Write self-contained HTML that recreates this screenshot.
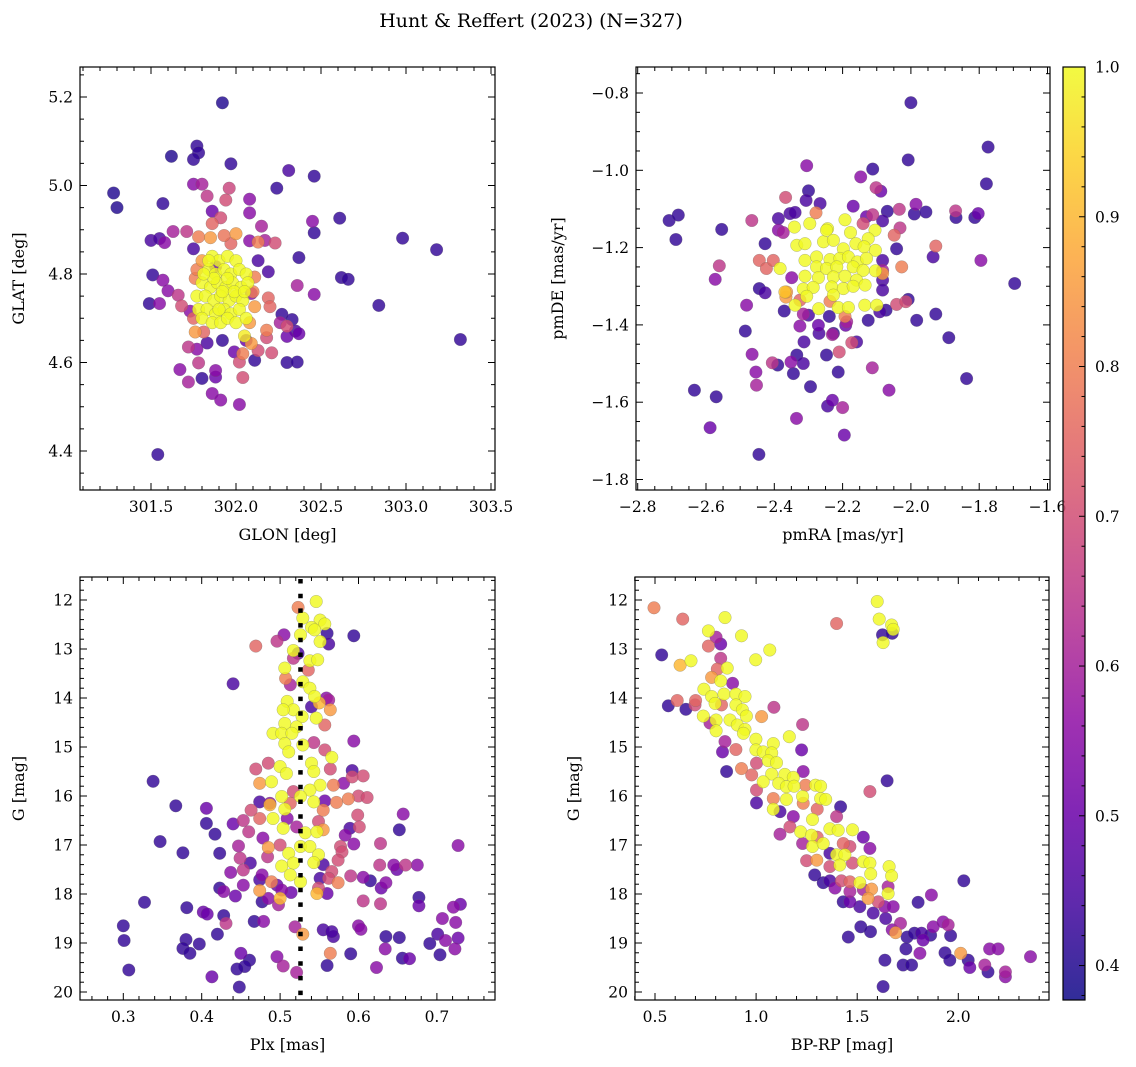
<!DOCTYPE html>
<html><head><meta charset="utf-8">
<style>
html,body{margin:0;padding:0;background:#fff;}
svg{display:block;font-family:"DejaVu Serif","Liberation Serif",serif;}
</style></head>
<body>
<svg id="fig" width="1136" height="1067" viewBox="0 0 1136 1067" xmlns="http://www.w3.org/2000/svg">
<rect width="1136" height="1067" fill="#fff"/>
<text x="531" y="27" font-size="19" text-anchor="middle">Hunt &amp; Reffert (2023) (N=327)</text>
</svg>
<script>
// ---- Data (x, y, membership probability) ----
const glonGlat = [
[301.92,5.187,.4],[301.28,4.983,.4],[301.30,4.95,.4],[301.62,5.066,.4],[301.77,5.089,.42],[301.78,5.074,.42],[301.75,5.059,.42],[301.97,5.049,.42],[302.31,5.034,.45],[302.46,5.021,.42],[302.24,4.994,.42],[301.75,5.003,.55],[301.80,5.003,.6],[301.83,4.976,.65],[301.96,4.994,.68],[301.94,4.967,.7],[302.08,4.969,.55],[302.08,4.938,.55],[301.57,4.959,.42],[301.86,4.942,.5],[301.91,4.927,.7],[301.86,4.914,.75],[302.15,4.908,.6],[302.61,4.926,.42],[302.45,4.919,.55],[302.46,4.893,.42],[302.98,4.881,.42],[303.18,4.855,.42],[302.37,4.837,.42],[302.62,4.792,.42],[302.66,4.788,.42],[302.36,4.774,.6],[302.46,4.754,.55],[302.84,4.729,.42],[303.32,4.652,.42],[301.54,4.392,.42],[301.50,4.876,.45],[301.55,4.880,.45],[301.58,4.871,.55],[301.63,4.896,.6],[301.71,4.896,.65],[301.78,4.884,.8],[301.85,4.882,.85],[301.93,4.887,.78],[302.00,4.891,.85],[301.97,4.869,.75],[302.08,4.875,.55],[302.13,4.872,.8],[302.17,4.876,.6],[302.23,4.870,.7],[301.75,4.857,.45],[302.13,4.830,.45],[301.51,4.798,.42],[301.57,4.786,.55],[301.60,4.762,.55],[301.66,4.752,.65],[302.19,4.805,.45],[301.49,4.733,.42],[301.55,4.733,.55],[301.68,4.728,.7],[301.73,4.716,.55],[302.11,4.793,.8],[302.09,4.756,.55],[302.11,4.726,.85],[302.19,4.746,.75],[302.20,4.726,.75],[302.27,4.709,.42],[302.33,4.697,.42],[302.26,4.690,.6],[302.30,4.682,.7],[302.35,4.671,.45],[302.37,4.665,.5],[302.30,4.659,.5],[302.18,4.673,.8],[302.18,4.656,.7],[301.76,4.669,.85],[301.81,4.669,.75],[301.83,4.644,.45],[301.92,4.650,.42],[302.06,4.650,.5],[302.09,4.643,.85],[301.72,4.635,.65],[301.77,4.630,.55],[301.99,4.624,.5],[302.02,4.601,.7],[302.04,4.620,.8],[302.11,4.605,.42],[302.13,4.627,.7],[302.21,4.622,.7],[302.30,4.600,.42],[302.36,4.601,.42],[301.78,4.599,.65],[301.67,4.584,.55],[301.88,4.582,.55],[301.72,4.556,.6],[301.80,4.564,.42],[301.88,4.567,.5],[302.04,4.566,.7],[301.86,4.530,.55],[301.91,4.515,.55],[302.02,4.505,.55],[301.88,4.817,.5],
[301.80,4.83,.85],[301.76,4.79,.8],[301.75,4.70,.75],[302.08,4.69,.85],[302.10,4.76,.8],[301.77,4.81,.8],
[301.86,4.84,1],[301.90,4.83,1],[301.95,4.84,1],[302.00,4.83,1],[301.84,4.81,1],[301.88,4.80,1],[301.93,4.81,1],[301.97,4.80,1],[302.02,4.81,1],[302.06,4.80,1],[301.80,4.78,1],[301.85,4.77,1],[301.89,4.78,1],[301.94,4.77,1],[301.98,4.78,1],[302.03,4.77,1],[302.07,4.78,1],[301.77,4.75,1],[301.82,4.75,1],[301.87,4.74,1],[301.91,4.75,1],[301.96,4.74,1],[302.00,4.75,1],[302.04,4.74,1],[301.78,4.72,1],[301.83,4.72,1],[301.88,4.71,1],[301.93,4.72,1],[301.97,4.71,1],[302.02,4.72,1],[301.80,4.70,1],[301.86,4.69,1],[301.91,4.69,1],[301.95,4.70,1],[302.00,4.69,1],[302.06,4.70,1],[301.84,4.83,1],[301.92,4.76,1],[301.99,4.76,1],[301.87,4.79,1],[302.05,4.76,1],[301.81,4.80,1],[301.95,4.79,1],[301.90,4.72,1],[302.05,4.66,.98]
];
const pmData = [
[-2.0,-0.825,.42],[-1.774,-0.94,.42],[-2.008,-0.973,.42],[-2.112,-0.997,.42],[-2.147,-1.017,.55],[-2.305,-0.988,.55],[-1.779,-1.035,.42],[-2.102,-1.045,.65],[-2.088,-1.054,.5],[-2.708,-1.130,.42],[-2.681,-1.116,.42],[-2.688,-1.179,.42],[-2.554,-1.153,.42],[-2.466,-1.13,.65],[-2.367,-1.07,.7],[-2.30,-1.053,.42],[-2.307,-1.078,.45],[-2.266,-1.086,.45],[-2.388,-1.125,.45],[-2.354,-1.112,.45],[-2.339,-1.109,.45],[-2.388,-1.155,.55],[-2.374,-1.161,.6],[-2.427,-1.19,.42],[-2.278,-1.11,.8],[-2.169,-1.093,.5],[-2.13,-1.12,.5],[-2.112,-1.115,.65],[-2.083,-1.131,.45],[-2.069,-1.106,.42],[-2.034,-1.101,.65],[-1.985,-1.088,.55],[-1.99,-1.113,.42],[-1.956,-1.108,.42],[-2.032,-1.149,.65],[-2.049,-1.168,.75],[-2.042,-1.203,.42],[-1.927,-1.196,.75],[-1.935,-1.224,.45],[-1.869,-1.105,.65],[-1.868,-1.122,.42],[-1.813,-1.122,.42],[-1.803,-1.112,.5],[-1.795,-1.233,.55],[-1.696,-1.293,.42],[-2.027,-1.25,.8],[-2.083,-1.233,.45],[-2.083,-1.259,.6],[-2.083,-1.284,.45],[-2.083,-1.31,.45],[-2.073,-1.362,.42],[-2.091,-1.366,.45],[-2.042,-1.347,.7],[-2.008,-1.334,.42],[-2.015,-1.34,.7],[-1.983,-1.388,.42],[-1.927,-1.372,.42],[-1.889,-1.433,.42],[-1.837,-1.539,.42],[-2.064,-1.569,.55],[-2.113,-1.511,.6],[-2.159,-1.444,.45],[-2.173,-1.446,.7],[-2.125,-1.388,.42],[-2.188,-1.392,.6],[-2.191,-1.401,.5],[-2.21,-1.47,.7],[-2.213,-1.522,.42],[-2.247,-1.478,.42],[-2.227,-1.422,.42],[-2.23,-1.425,.6],[-2.269,-1.422,.45],[-2.271,-1.401,.5],[-2.239,-1.378,.42],[-2.30,-1.375,.45],[-2.315,-1.372,.6],[-2.325,-1.403,.55],[-2.313,-1.444,.45],[-2.315,-1.5,.45],[-2.334,-1.478,.42],[-2.351,-1.496,.55],[-2.344,-1.526,.42],[-2.39,-1.504,.42],[-2.406,-1.498,.65],[-2.294,-1.56,.42],[-2.335,-1.642,.55],[-2.244,-1.61,.45],[-2.23,-1.595,.5],[-2.2,-1.614,.6],[-2.195,-1.685,.5],[-2.445,-1.735,.42],[-2.452,-1.556,.6],[-2.454,-1.522,.55],[-2.465,-1.476,.55],[-2.485,-1.416,.42],[-2.481,-1.349,.55],[-2.588,-1.666,.5],[-2.57,-1.586,.42],[-2.634,-1.569,.42],[-2.573,-1.282,.55],[-2.561,-1.247,.65],[-2.444,-1.306,.42],[-2.427,-1.317,.45],[-2.371,-1.364,.42],[-2.444,-1.233,.75],[-2.423,-1.254,.75],[-2.403,-1.233,.75],[-2.349,-1.278,.55],[-2.366,-1.328,.85],[-2.364,-1.315,.85],
[-2.237,-1.339,.8],[-2.193,-1.378,.8],[-2.083,-1.267,.85],[-2.325,-1.336,.75],[-2.14,-1.138,.7],
[-2.341,-1.147,1],[-2.296,-1.138,1],[-2.244,-1.151,1],[-2.193,-1.128,1],[-2.177,-1.161,1],[-2.105,-1.155,1],[-2.125,-1.177,1],[-2.334,-1.194,1],[-2.31,-1.19,1],[-2.256,-1.185,1],[-2.227,-1.181,1],[-2.198,-1.203,1],[-2.161,-1.19,1],[-2.137,-1.198,1],[-2.104,-1.207,1],[-2.31,-1.233,1],[-2.276,-1.224,1],[-2.237,-1.231,1],[-2.208,-1.228,1],[-2.183,-1.224,1],[-2.157,-1.237,1],[-2.13,-1.228,1],[-2.276,-1.25,1],[-2.247,-1.254,1],[-2.217,-1.25,1],[-2.169,-1.25,1],[-2.14,-1.259,1],[-2.104,-1.26,1],[-2.31,-1.274,1],[-2.271,-1.278,1],[-2.227,-1.276,1],[-2.193,-1.274,1],[-2.159,-1.284,1],[-2.315,-1.307,1],[-2.286,-1.303,1],[-2.232,-1.302,1],[-2.198,-1.306,1],[-2.169,-1.3,1],[-2.134,-1.297,1],[-2.339,-1.349,1],[-2.27,-1.358,1],[-2.213,-1.355,1],[-2.183,-1.355,1],[-2.135,-1.349,1],[-2.1,-1.349,1],[-2.383,-1.254,1],[-2.227,-1.323,1],[-2.305,-1.326,1],[-2.369,-1.315,.92],[-2.247,-1.155,1]
];
const plxG = [
[0.546,12.03,1],[0.523,12.15,.8],[0.529,12.37,1],[0.551,12.41,1],[0.557,12.49,1],[0.54,12.56,1],[0.544,12.61,1],[0.56,12.68,.42],[0.562,12.9,.45],[0.551,12.85,1],[0.594,12.73,.42],[0.505,12.71,.55],[0.496,12.84,.65],[0.469,12.94,.75],[0.526,12.71,1],[0.523,13.09,.45],[0.517,13.03,1],[0.517,13.19,.65],[0.538,13.24,1],[0.548,13.22,1],[0.536,13.43,.75],[0.506,13.39,1],[0.507,13.6,.8],[0.513,13.73,.6],[0.44,13.71,.45],[0.529,13.67,1],[0.538,13.8,1],[0.544,13.97,1],[0.559,14.0,.55],[0.562,14.04,.6],[0.55,14.1,.9],[0.564,14.24,.85],[0.54,14.18,.45],[0.509,14.07,1],[0.517,14.24,1],[0.504,14.24,1],[0.528,14.38,1],[0.546,14.41,1],[0.557,14.55,.75],[0.506,14.52,1],[0.521,14.59,1],[0.491,14.72,1],[0.502,14.72,1],[0.515,14.72,1],[0.543,14.91,.65],[0.506,14.93,1],[0.529,14.96,1],[0.594,14.88,.55],[0.511,15.1,1],[0.557,15.06,.7],[0.566,15.21,1],[0.5,15.4,1],[0.485,15.33,.7],[0.469,15.45,.7],[0.508,15.54,1],[0.54,15.33,1],[0.543,15.5,1],[0.564,15.45,.7],[0.592,15.48,.45],[0.592,15.61,.7],[0.606,15.59,.7],[0.581,15.74,.55],[0.568,15.78,.8],[0.551,15.78,1],[0.538,15.88,1],[0.489,15.71,1],[0.474,15.74,.85],[0.502,16.01,1],[0.517,15.91,.7],[0.526,16.01,1],[0.543,16.12,1],[0.557,16.1,.5],[0.572,16.13,.8],[0.587,16.06,.8],[0.6,16.0,.7],[0.611,16.03,.7],[0.338,15.7,.42],[0.367,16.2,.42],[0.406,16.25,.5],[0.474,16.12,.45],[0.487,16.15,.55],[0.463,16.29,.7],[0.474,16.46,.75],[0.487,16.18,.9],[0.513,16.15,.75],[0.506,16.27,1],[0.509,16.46,.55],[0.555,16.29,.8],[0.491,16.46,1],[0.504,16.66,1],[0.521,16.63,.6],[0.532,16.75,1],[0.547,16.73,1],[0.555,16.69,.85],[0.549,16.52,.7],[0.599,16.39,.7],[0.601,16.63,.7],[0.589,16.66,.45],[0.583,16.8,.55],[0.594,16.98,.55],[0.628,16.97,.65],[0.652,16.69,.42],[0.657,16.37,.55],[0.727,17.01,.55],[0.406,16.56,.42],[0.417,16.78,.42],[0.347,16.93,.42],[0.376,17.16,.42],[0.423,17.17,.42],[0.44,16.57,.5],[0.453,16.5,.65],[0.46,16.73,.65],[0.478,16.86,.55],[0.447,17.02,.6],[0.485,17.05,.85],[0.484,17.24,.65],[0.5,17.0,.7],[0.511,17.17,1],[0.526,17.03,1],[0.538,17.03,1],[0.549,17.2,1],[0.577,17.03,.7],[0.579,17.14,.7],[0.574,17.31,.7],[0.502,17.43,1],[0.517,17.37,1],[0.543,17.36,1],[0.513,17.61,1],[0.526,17.75,1],[0.449,17.27,.65],[0.462,17.37,.45],[0.453,17.51,.65],[0.437,17.56,.55],[0.555,17.4,.45],[0.566,17.54,.7],[0.562,17.68,.7],[0.551,17.68,.45],[0.574,17.77,.8],[0.59,17.63,.65],[0.606,17.66,.55],[0.615,17.73,.42],[0.627,17.41,.65],[0.645,17.41,.55],[0.649,17.5,.5],[0.66,17.41,.65],[0.675,17.41,.55],[0.629,17.88,.5],[0.635,17.77,.55],[0.477,17.61,.55],[0.474,17.71,.45],[0.489,17.75,.8],[0.496,17.82,.5],[0.502,17.92,.55],[0.514,17.97,.5],[0.474,17.93,.85],[0.485,18.09,.55],[0.5,18.09,.9],[0.498,18.22,.6],[0.477,18.16,.42],[0.549,17.88,.7],[0.547,17.99,.9],[0.56,17.99,.5],[0.423,17.88,.42],[0.428,17.95,.55],[0.443,18.04,.5],[0.453,17.82,.55],[0.606,18.14,.65],[0.628,18.2,.65],[0.327,18.17,.42],[0.381,18.28,.42],[0.402,18.37,.5],[0.407,18.41,.5],[0.428,18.44,.42],[0.431,18.6,.65],[0.467,18.56,.42],[0.479,18.56,.55],[0.519,18.67,.6],[0.529,18.82,.85],[0.555,18.73,.45],[0.568,18.87,.45],[0.566,18.77,.45],[0.6,18.65,.55],[0.603,18.72,.55],[0.677,18.07,.42],[0.677,18.24,.5],[0.721,18.27,.55],[0.73,18.21,.5],[0.707,18.5,.55],[0.724,18.58,.55],[0.3,18.65,.42],[0.301,18.95,.42],[0.307,19.55,.42],[0.38,18.93,.42],[0.376,19.11,.42],[0.385,19.21,.42],[0.397,19.02,.42],[0.42,18.82,.42],[0.413,19.69,.5],[0.45,19.21,.5],[0.461,19.35,.42],[0.455,19.48,.42],[0.445,19.53,.42],[0.448,19.9,.42],[0.496,19.28,.55],[0.504,19.47,.6],[0.521,19.6,.6],[0.564,19.21,.8],[0.56,19.46,.42],[0.59,19.22,.42],[0.623,19.5,.55],[0.635,18.87,.42],[0.634,19.12,.55],[0.652,18.89,.42],[0.656,19.31,.42],[0.665,19.32,.5],[0.691,19.01,.42],[0.701,18.82,.45],[0.711,18.95,.55],[0.704,19.24,.42],[0.723,19.12,.55],[0.727,18.9,.5]
];
const cmdData = [
[0.495,12.16,.8],[0.637,12.39,.75],[0.846,12.36,1],[1.398,12.48,.75],[1.599,12.03,1],[1.609,12.39,1],[1.67,12.51,1],[1.678,12.6,1],[1.625,12.71,.42],[1.673,12.68,.42],[1.628,12.87,1],[0.764,12.63,1],[0.802,12.76,.6],[0.825,12.9,.5],[0.764,12.94,.75],[0.928,12.73,1],[0.533,13.12,.42],[0.624,13.33,.9],[0.678,13.24,1],[1.068,13.02,1],[0.998,13.22,1],[0.825,13.19,.65],[0.808,13.41,.75],[0.857,13.39,1],[0.78,13.58,.85],[0.825,13.65,1],[0.884,13.7,.55],[0.742,13.82,1],[0.61,14.05,.75],[0.566,14.16,.42],[0.653,14.23,.42],[0.701,14.05,.75],[0.698,14.14,.7],[0.78,13.97,1],[0.797,14.11,1],[0.841,13.92,1],[0.9,13.92,1],[0.945,13.97,1],[0.829,14.14,.75],[0.9,14.14,1],[0.932,14.24,1],[0.952,14.37,1],[0.739,14.37,1],[0.802,14.45,1],[0.871,14.45,1],[0.907,14.55,1],[0.945,14.64,1],[0.937,14.72,1],[1.027,14.38,.85],[1.088,14.19,.65],[1.23,14.54,.65],[0.802,14.67,1],[0.772,14.51,.6],[0.846,14.89,.6],[0.834,15.1,.5],[0.9,15.05,.75],[0.999,14.84,1],[1.164,14.79,1],[1.225,15.06,.5],[0.999,15.06,1],[1.035,15.1,1],[1.085,14.93,1],[1.077,15.12,1],[1.06,15.28,1],[1.101,15.32,1],[1.002,15.33,.7],[0.928,15.44,.8],[0.854,15.5,.42],[0.978,15.57,.75],[1.077,15.55,1],[1.142,15.56,1],[1.184,15.62,1],[1.233,15.5,.55],[1.035,15.71,1],[1.112,15.74,1],[1.15,15.81,1],[1.188,15.8,1],[1.245,15.78,.8],[1.294,15.78,1],[1.319,15.8,1],[1.002,15.88,.7],[1.085,16.05,.8],[1.15,16.07,1],[1.23,16.01,1],[1.233,16.15,.8],[1.319,16.05,1],[1.344,16.07,1],[1.302,16.27,.75],[1.002,16.14,.45],[1.085,16.27,1],[1.118,16.32,.45],[1.418,16.22,.42],[1.398,16.42,.65],[1.563,15.91,.7],[1.648,15.69,.42],[1.279,16.48,1],[1.184,16.42,.55],[1.167,16.63,.7],[1.22,16.73,1],[1.274,16.8,1],[1.302,16.84,.75],[1.365,16.67,1],[1.406,16.7,1],[1.477,16.69,1],[1.118,16.78,.6],[1.23,16.97,.6],[1.279,17.03,1],[1.332,16.97,1],[1.365,17.17,.45],[1.398,17.2,1],[1.431,16.97,.75],[1.464,17.03,.7],[1.439,17.2,1],[1.53,16.84,.5],[1.563,17.07,.55],[1.25,17.32,.7],[1.3,17.31,.85],[1.414,17.41,1],[1.365,17.44,.7],[1.477,17.37,.7],[1.53,17.34,1],[1.563,17.37,1],[1.567,17.59,1],[1.658,17.44,1],[1.67,17.63,1],[1.29,17.61,.42],[1.332,17.77,.42],[1.365,17.73,.45],[1.422,17.73,.7],[1.464,17.75,.75],[1.513,17.77,1],[1.39,17.88,.55],[1.464,17.95,.6],[1.53,17.91,.6],[1.571,17.9,.85],[1.653,17.85,.6],[1.653,17.99,1],[2.027,17.73,.42],[1.867,18.02,.55],[1.801,18.17,.42],[1.431,18.16,.42],[1.464,18.16,.5],[1.513,18.26,.45],[1.554,18.09,.85],[1.604,18.16,.7],[1.636,18.26,.55],[1.678,18.26,.55],[1.579,18.39,.45],[1.641,18.5,.45],[1.518,18.67,.42],[1.566,18.77,.42],[1.456,18.88,.42],[1.69,18.79,.85],[1.714,18.6,.6],[1.673,18.73,.55],[1.747,18.88,.42],[1.783,18.8,.42],[1.826,18.94,.5],[1.818,18.8,.45],[1.863,18.84,.42],[1.876,18.67,.55],[1.741,19.12,.42],[1.81,19.21,.55],[1.925,18.57,.55],[1.95,18.63,.6],[1.962,18.85,.42],[1.934,19.2,.42],[1.958,19.35,.42],[2.012,19.21,.85],[2.049,19.35,.42],[2.057,19.5,.5],[2.155,19.12,.55],[2.197,19.12,.55],[2.131,19.45,.6],[2.147,19.59,.42],[2.233,19.59,.6],[2.233,19.69,.55],[2.357,19.28,.55],[1.637,19.35,.42],[1.727,19.45,.42],[1.769,19.45,.42],[1.628,19.89,.42]
];
const plxMedian = 0.526;
const cbTicks = [0.4,0.5,0.6,0.7,0.8,0.9,1.0];
const vmin = 0.377, vmax = 1.0;

const NS = "http://www.w3.org/2000/svg";
const svg = document.getElementById('fig');
function mk(tag, attrs, parent){const e=document.createElementNS(NS,tag);for(const k in attrs)e.setAttribute(k,attrs[k]);(parent||svg).appendChild(e);return e;}
const plasma=[[13,8,135],[65,4,157],[106,0,168],[143,13,164],[177,42,144],[204,71,120],[225,100,98],[242,132,75],[252,166,54],[252,206,37],[240,249,33]];
function cmap(t){t=Math.max(0,Math.min(1,t));const f=t*10,i=Math.min(9,Math.floor(f)),u=f-i;const a=plasma[i],b=plasma[i+1];return `rgb(${Math.round(a[0]+(b[0]-a[0])*u)},${Math.round(a[1]+(b[1]-a[1])*u)},${Math.round(a[2]+(b[2]-a[2])*u)})`;}
function fmt(v,d){return v.toFixed(d).replace('-','\u2212');}

function panel(o){
  const g=mk('g',{});
  
  
  const X=v=>o.px0+(v-o.x0)*o.sx, Y=v=>o.py0+(v-o.y0)*o.sy;
  const clipId=o.name+'-clip';
  const cp=mk('clipPath',{id:clipId},g);mk('rect',{x:o.L,y:o.T,width:o.R-o.L,height:o.B-o.T},cp);
  const pts=mk('g',{'clip-path':`url(#${clipId})`},g);
  
  
  const sorted=o.data.slice().sort((a,b)=>a[2]-b[2]);
  for(const d of sorted){
    const c=mk('circle',{cx:X(d[0]).toFixed(1),cy:Y(d[1]).toFixed(1),r:6.3,fill:cmap((d[2]-vmin)/(vmax-vmin)),'fill-opacity':0.82,stroke:'#666','stroke-width':0.4,'stroke-opacity':0.6},pts);
    
    
  }
  if(o.vline!==undefined){
    const l=mk('line',{x1:X(o.vline),x2:X(o.vline),y1:o.T+2,y2:o.B,stroke:'#000','stroke-width':4.5,'stroke-dasharray':'4.5 10.2'},g);
    
    
  }
  const ax=mk('g',{stroke:'#000','stroke-width':1},g);
  for(let v=o.xmin0;v<=o.xmax0+1e-9;v+=o.xminor){const x=X(v);if(x<o.L-0.5||x>o.R+0.5)continue;const maj=Math.abs(v/o.xmajor-Math.round(v/o.xmajor))<1e-6;const len=maj?7:4;
    mk('line',{x1:x,x2:x,y1:o.B,y2:o.B-len},ax);mk('line',{x1:x,x2:x,y1:o.T,y2:o.T+len},ax);
    if(maj){const t=mk('text',{x:x,y:o.B+22,'font-size':15.5,'text-anchor':'middle',stroke:'none',fill:'#000'},g);t.textContent=fmt(v,o.xd);}}
  for(let v=o.ymin0;v<=o.ymax0+1e-9;v+=o.yminor){const y=Y(v);if(y<o.T-0.5||y>o.B+0.5)continue;const maj=Math.abs(v/o.ymajor-Math.round(v/o.ymajor))<1e-6;const len=maj?7:4;
    mk('line',{x1:o.L,x2:o.L+len,y1:y,y2:y},ax);mk('line',{x1:o.R,x2:o.R-len,y1:y,y2:y},ax);
    if(maj){const t=mk('text',{x:o.L-7,y:y+5.5,'font-size':15.5,'text-anchor':'end',stroke:'none',fill:'#000'},g);t.textContent=fmt(v,o.yd);}}
  mk('rect',{x:o.L,y:o.T,width:o.R-o.L,height:o.B-o.T,fill:'none',stroke:'#000','stroke-width':1.2},g);
  const xl=mk('text',{x:(o.L+o.R)/2,y:o.B+50,'font-size':16,'text-anchor':'middle'},g);xl.textContent=o.xlabel;
  
  const yx=o.ylx,yy=(o.T+o.B)/2;
  const yl=mk('text',{x:yx,y:yy,'font-size':16,'text-anchor':'middle',transform:`rotate(-90 ${yx} ${yy})`},g);yl.textContent=o.ylabel;
  
}

panel({name:'glon-glat-panel',data:glonGlat,L:80,R:495,T:67,B:490,x0:301.5,px0:151,sx:170,y0:5.2,py0:97,sy:-442.5,
  xmin0:301.0,xmax0:303.6,xminor:0.1,xmajor:0.5,xd:1,ymin0:4.3,ymax0:5.3,yminor:0.05,ymajor:0.2,yd:1,xlabel:'GLON [deg]',ylabel:'GLAT [deg]',ylx:24});
panel({name:'proper-motion-panel',data:pmData,L:636,R:1050,T:67,B:490,x0:-2.8,px0:637.7,sx:341.5,y0:-0.8,py0:93,sy:-386.5,
  xmin0:-2.85,xmax0:-1.55,xminor:0.05,xmajor:0.2,xd:1,ymin0:-1.85,ymax0:-0.7,yminor:0.05,ymajor:0.2,yd:1,xlabel:'pmRA [mas/yr]',ylabel:'pmDE [mas/yr]',ylx:563});
panel({name:'parallax-magnitude-panel',data:plxG,vline:plxMedian,L:80,R:495,T:577,B:1000,x0:0.3,px0:123.3,sx:784,y0:12,py0:600,sy:49,
  xmin0:0.24,xmax0:0.78,xminor:0.02,xmajor:0.1,xd:1,ymin0:11.4,ymax0:20.2,yminor:0.2,ymajor:1,yd:0,xlabel:'Plx [mas]',ylabel:'G [mag]',ylx:24});
panel({name:'color-magnitude-panel',data:cmdData,L:635,R:1049,T:577,B:1000,x0:0.5,px0:655,sx:202.2,y0:12,py0:600,sy:49,
  xmin0:0.4,xmax0:2.5,xminor:0.1,xmajor:0.5,xd:1,ymin0:11.4,ymax0:20.2,yminor:0.2,ymajor:1,yd:0,xlabel:'BP-RP [mag]',ylabel:'G [mag]',ylx:579});

// colorbar
(function(){
  const L=1063,R=1085,T=67,B=1000;
  const g=mk('g',{});
  
  
  const defs=mk('defs',{},g);
  const lg=mk('linearGradient',{id:'cbgrad',x1:0,y1:1,x2:0,y2:0},defs);
  for(let i=0;i<=20;i++){mk('stop',{offset:(i/20),'stop-color':cmap(i/20),'stop-opacity':0.85},lg);}
  mk('rect',{x:L,y:T,width:R-L,height:B-T,fill:'url(#cbgrad)'},g);
  const Yc=v=>T+(vmax-v)/(vmax-vmin)*(B-T);
  for(let v=0.38;v<=1.0001;v+=0.02){const y=Yc(v);const maj=Math.abs(v*10-Math.round(v*10))<1e-6;mk('line',{x1:R,x2:R-(maj?6:3.5),y1:y,y2:y,stroke:'#000','stroke-width':1},g);}
  for(const v of cbTicks){const y=Yc(v);const t=mk('text',{x:R+10,y:y+5.5,'font-size':15.5},g);t.textContent=v.toFixed(1);}
  mk('rect',{x:L,y:T,width:R-L,height:B-T,fill:'none',stroke:'#000','stroke-width':1.2},g);
})();
</script>
</body></html>
